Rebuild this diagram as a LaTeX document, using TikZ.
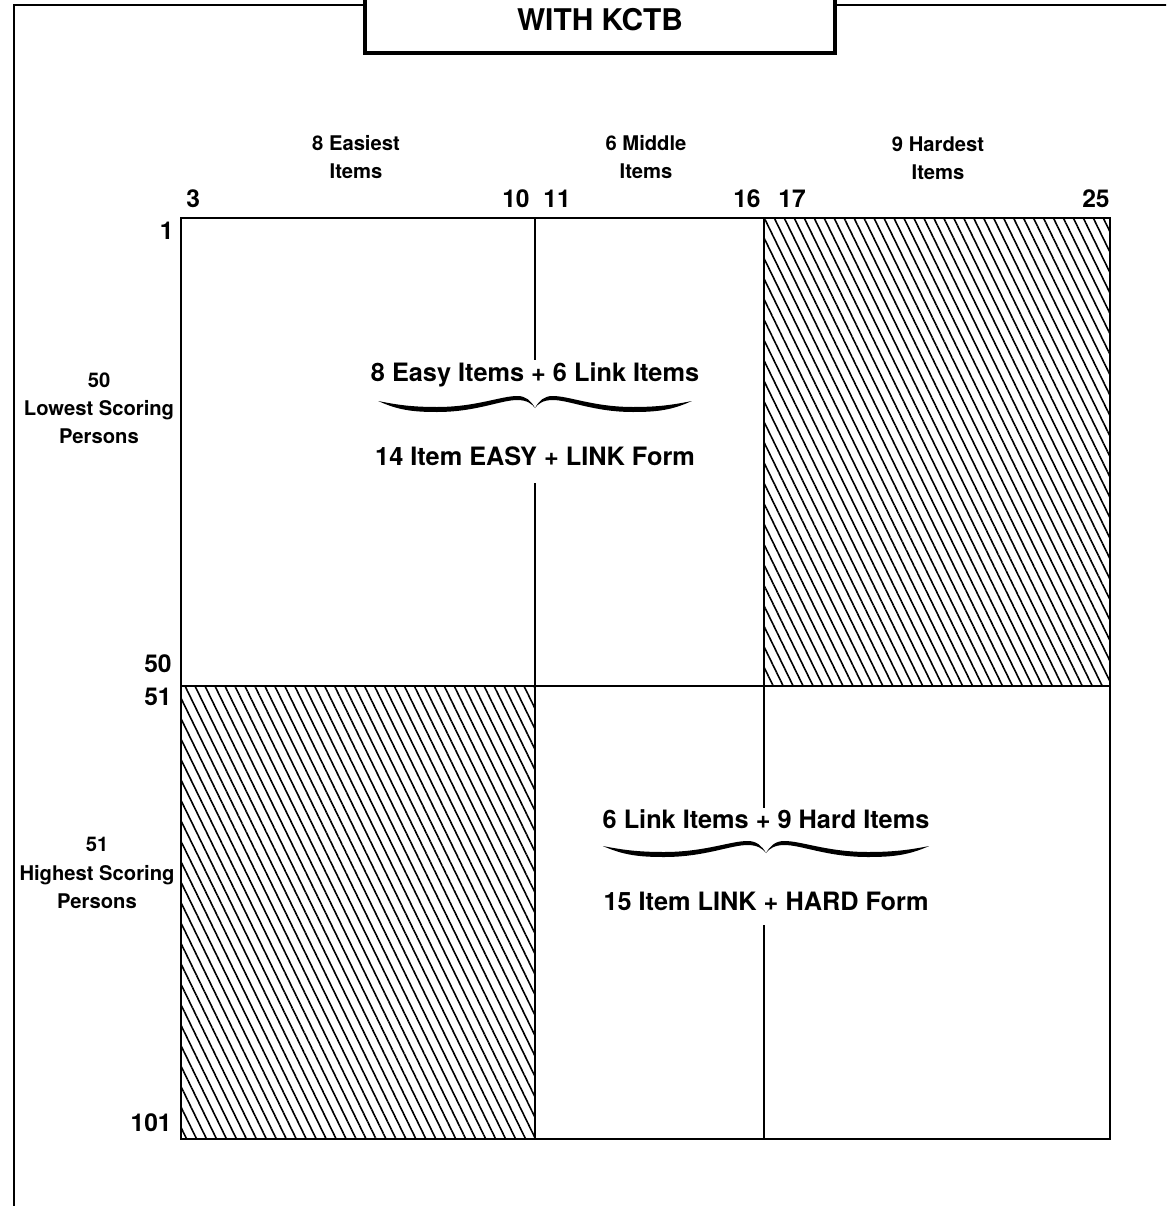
\documentclass[tikz,border=0pt]{standalone}
\usepackage{fontspec}
\setmainfont{TeX Gyre Heros}
\usetikzlibrary{patterns.meta}

\tikzset{
  gridline/.style={line width=1.3pt},
  splitline/.style={line width=0.9pt},
  hatch/.style={pattern={Lines[angle=-64,distance=5.1pt,line width=0.9pt]}},
  numlbl/.style={font=\bfseries\fontsize{14}{16}\selectfont, inner sep=0pt},
  grplbl/.style={font=\bfseries\fontsize{11.5}{16}\selectfont, align=center, inner sep=0pt},
  formlbl/.style={font=\bfseries\fontsize{14.4}{16}\selectfont, inner sep=0pt, anchor=base},
}

\begin{document}
\begin{tikzpicture}[x=0.02cm, y=-0.02cm]
  \useasboundingbox (0,0) rectangle (1166,1206);
  \clip (0,0) rectangle (1166,1206);

  % --- outer frame and title box ---
  \draw[line width=1.2pt] (14,1220) -- (14,5) -- (365,5);
  \draw[line width=1.2pt] (835,5) -- (1180,5);
  \draw[line width=1.8pt] (365,-20) -- (365,53) -- (835,53) -- (835,-20);
  \node[font=\bfseries\fontsize{17}{20}\selectfont, anchor=base] (title) at (600,31) {WITH KCTB};

  % --- grid corners ---
  \coordinate (gTL) at (181,218);
  \coordinate (gBR) at (1110,1139);
  \coordinate (mL) at (181,686);
  \coordinate (mR) at (1110,686);

  % hatched blocks (items not taken)
  \fill[hatch] (764,218) rectangle (mR);
  \fill[hatch] (mL) rectangle (535,1139);

  \draw[gridline] (gTL) rectangle (gBR);
  \draw[gridline] (mL) -- (mR);

  % --- item columns along the top ---
  \node[numlbl, anchor=base west] (i3) at (186,208) {3};
  \node[numlbl, anchor=base east] (i10) at (530,208) {10};
  \node[numlbl, anchor=base west] (i11) at (543,208) {11};
  \node[numlbl, anchor=base east] (i16) at (761,208) {16};
  \node[numlbl, anchor=base west] (i17) at (778,208) {17};
  \node[numlbl, anchor=base east] (i25) at (1110,208) {25};

  \node[grplbl] (easiest) at (356,157) {8 Easiest\\Items};
  \node[grplbl] (middle) at (646,157) {6 Middle\\Items};
  \node[grplbl] (hardest) at (938,158) {9 Hardest\\Items};

  % --- person rows along the left ---
  \node[numlbl, anchor=base east] (p1) at (174,239) {1};
  \node[numlbl, anchor=base east] (p50) at (172,672) {50};
  \node[numlbl, anchor=base east] (p51) at (172,705) {51};
  \node[numlbl, anchor=base east] (p101) at (172,1131) {101};

  \node[grplbl] (lowest) at (99,408) {50\\Lowest Scoring\\Persons};
  \node[grplbl] (highest) at (97,873) {51\\Highest Scoring\\Persons};

  % --- EASY + LINK form ---
  \node[formlbl] (easysum) at (535,381) {8 Easy Items + 6 Link Items};
  \node[formlbl] (easyform) at (535,465) {14 Item EASY + LINK Form};
  \coordinate (easyT) at (535,218);
  \coordinate (easyA) at (535,360);
  \coordinate (easyB) at (535,483);
  \coordinate (easyE) at (535,1139);
  \draw[splitline] (easyT) -- (easyA);
  \draw[splitline] (easyB) -- (easyE);

  % --- LINK + HARD form ---
  \node[formlbl] (hardsum) at (766,828) {6 Link Items + 9 Hard Items};
  \node[formlbl] (hardform) at (766,910) {15 Item LINK + HARD Form};
  \coordinate (hardT) at (764,218);
  \coordinate (hardA) at (764,808);
  \coordinate (hardB) at (764,925);
  \coordinate (hardE) at (764,1139);
  \draw[splitline] (hardT) -- (hardA);
  \draw[splitline] (hardB) -- (hardE);

  % braces under the item sums
  \foreach \bx/\by/\bw in {535/401/0.98, 766/846/1.02}
    \foreach \s in {1,-1}
      \fill[shift={(\bx,\by)}, xscale=\s*\bw]
        (-160,0) .. controls (-140,9) and (-125,11) .. (-100,11)
        .. controls (-60,11) and (-35,-1) .. (-18,-1)
        .. controls (-8,-1) and (-3,3) .. (0,7)
        .. controls (-4,0) and (-9,-5) .. (-18,-5)
        .. controls (-35,-5) and (-60,6) .. (-100,6)
        .. controls (-125,6) and (-140,4) .. (-160,0) -- cycle;

\end{tikzpicture}
\end{document}
